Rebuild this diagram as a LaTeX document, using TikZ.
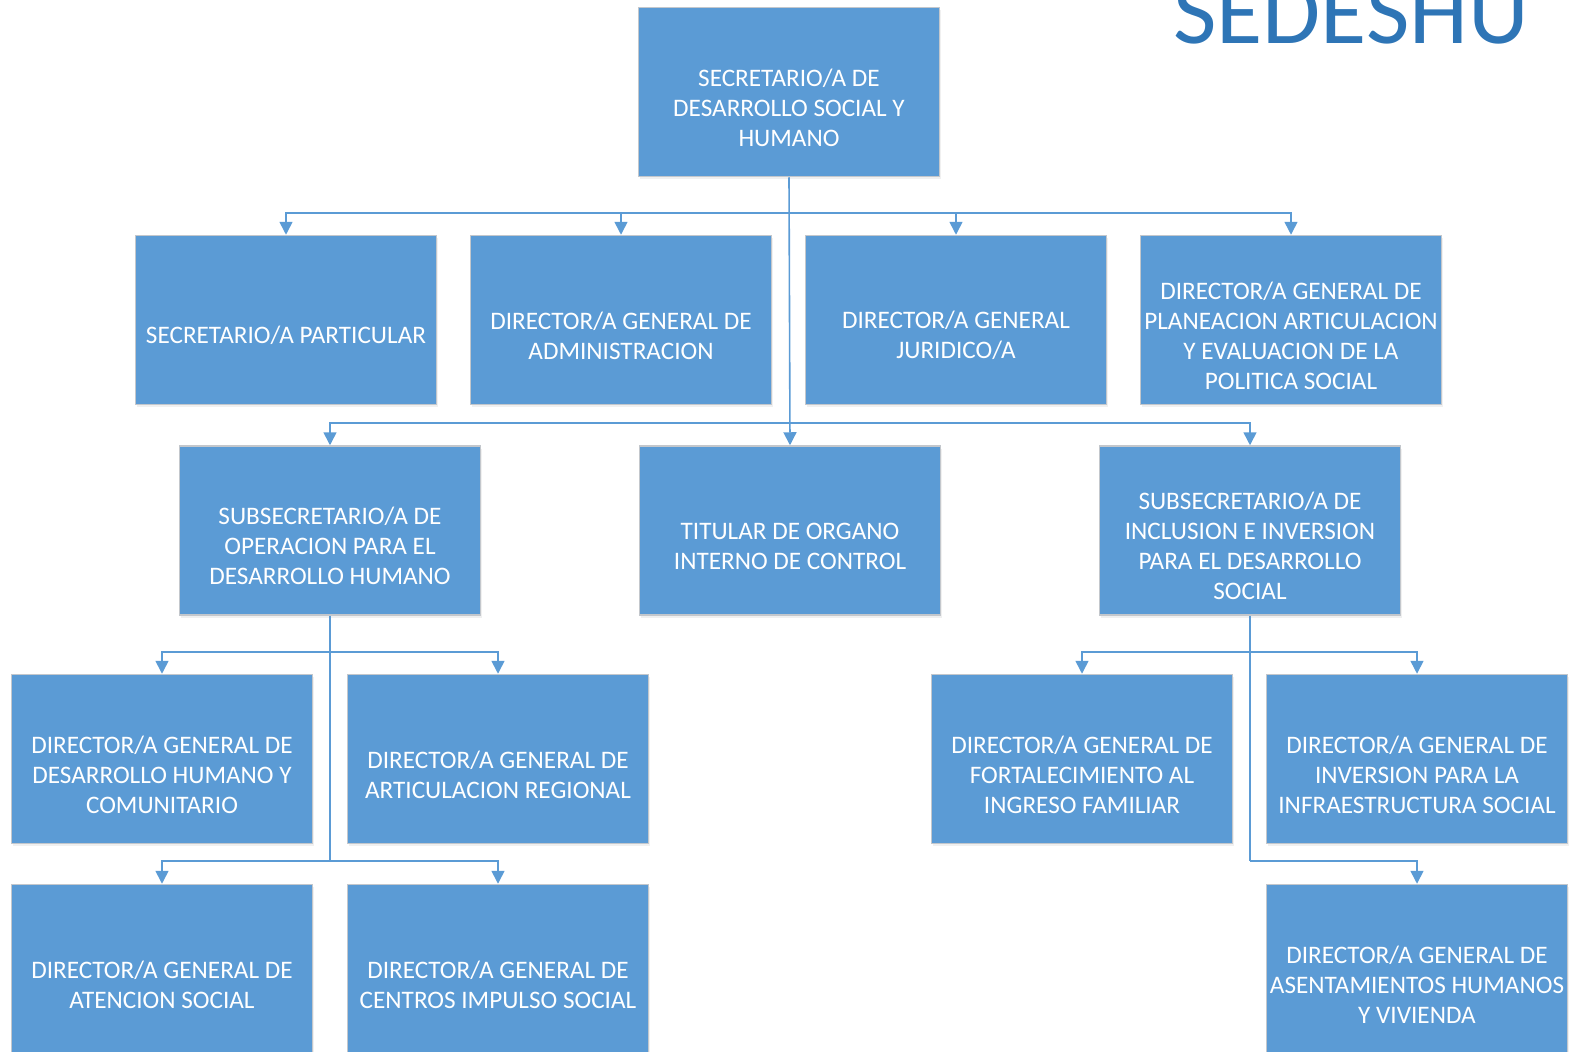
\documentclass[tikz,border=0pt]{standalone}
\usepackage{fontspec}
\setmainfont{Carlito}
\usetikzlibrary{arrows.meta,shadows}
\definecolor{boxfill}{HTML}{5B9BD5}
\definecolor{boxline}{HTML}{C3C7CC}
\definecolor{titleblue}{HTML}{2E75B6}
\newcommand\orgnode[3]{%
  \node[orgbox] (#1) at (#2) {};
  \node[orgtext] (#1t) at ([yshift=-15.5pt]#1.center) {#3};}
\begin{document}
\begin{tikzpicture}[x=1pt,y=-1pt,
  orgbox/.style={draw=boxline, line width=1.5pt, fill=boxfill,
    minimum width=301pt, minimum height=169pt, inner sep=0pt,
    drop shadow={opacity=0.12, shadow xshift=1.5pt, shadow yshift=-2.5pt}},
  orgtext/.style={text=white, font=\fontsize{25.2}{30}\selectfont,
    align=center, inner sep=0pt},
  conn/.style={draw=boxfill, line width=1.6pt},
  arr/.style={conn, -{Triangle[width=13pt,length=13pt]}}]
\useasboundingbox (0,0) rectangle (1572,1052);
% title
\node[anchor=base west, inner sep=0pt, text=titleblue,
  font=\fontsize{94.5}{100}\selectfont] (title) at (1173,43.5) {SEDESHU};
% boxes
\orgnode{b0}{789,92}{SECRETARIO/A DE\\DESARROLLO SOCIAL Y\\HUMANO}
\orgnode{b1}{286,320}{SECRETARIO/A PARTICULAR}
\orgnode{b2}{621,320}{DIRECTOR/A GENERAL DE\\ADMINISTRACION}
\orgnode{b3}{956,320}{DIRECTOR/A GENERAL\\JURIDICO/A}
\orgnode{b4}{1291,320}{DIRECTOR/A GENERAL DE\\PLANEACION ARTICULACION\\Y EVALUACION DE LA\\POLITICA SOCIAL}
\orgnode{b5}{330,530.5}{SUBSECRETARIO/A DE\\OPERACION PARA EL\\DESARROLLO HUMANO}
\orgnode{b6}{790,530.5}{TITULAR DE ORGANO\\INTERNO DE CONTROL}
\orgnode{b7}{1250,530.5}{SUBSECRETARIO/A DE\\INCLUSION E INVERSION\\PARA EL DESARROLLO\\SOCIAL}
\orgnode{b8}{162,759}{DIRECTOR/A GENERAL DE\\DESARROLLO HUMANO Y\\COMUNITARIO}
\orgnode{b9}{498,759}{DIRECTOR/A GENERAL DE\\ARTICULACION REGIONAL}
\orgnode{b10}{1082,759}{DIRECTOR/A GENERAL DE\\FORTALECIMIENTO AL\\INGRESO FAMILIAR}
\orgnode{b11}{1417,759}{DIRECTOR/A GENERAL DE\\INVERSION PARA LA\\INFRAESTRUCTURA SOCIAL}
\orgnode{b12}{162,969}{DIRECTOR/A GENERAL DE\\ATENCION SOCIAL}
\orgnode{b13}{498,969}{DIRECTOR/A GENERAL DE\\CENTROS IMPULSO SOCIAL}
\orgnode{b14}{1417,969}{DIRECTOR/A GENERAL DE\\ASENTAMIENTOS HUMANOS\\Y VIVIENDA}
% junction coordinates
\coordinate (j0) at (b0.south |- 0,213);
\coordinate (j1) at (b0.south |- 0,423);
\coordinate (j5a) at (b5.south |- 0,652);
\coordinate (j5b) at (b5.south |- 0,861);
\coordinate (j7a) at (b7.south |- 0,652);
\coordinate (j7b) at (b7.south |- 0,861);
% connectors
\draw[arr] (b0.south) -- (b6.north);
\draw[arr] (j0) -| (b1.north);
\draw[arr] (j0) -| (b2.north);
\draw[arr] (j0) -| (b3.north);
\draw[arr] (j0) -| (b4.north);
\draw[arr] (j1) -| (b5.north);
\draw[arr] (j1) -| (b7.north);
\draw[conn] (b5.south) -- (j5b);
\draw[arr] (j5a) -| (b8.north);
\draw[arr] (j5a) -| (b9.north);
\draw[arr] (j5b) -| (b12.north);
\draw[arr] (j5b) -| (b13.north);
\draw[conn] (b7.south) -- (j7b);
\draw[arr] (j7a) -| (b10.north);
\draw[arr] (j7a) -| (b11.north);
\draw[arr] (j7b) -| (b14.north);
\end{tikzpicture}
\end{document}
